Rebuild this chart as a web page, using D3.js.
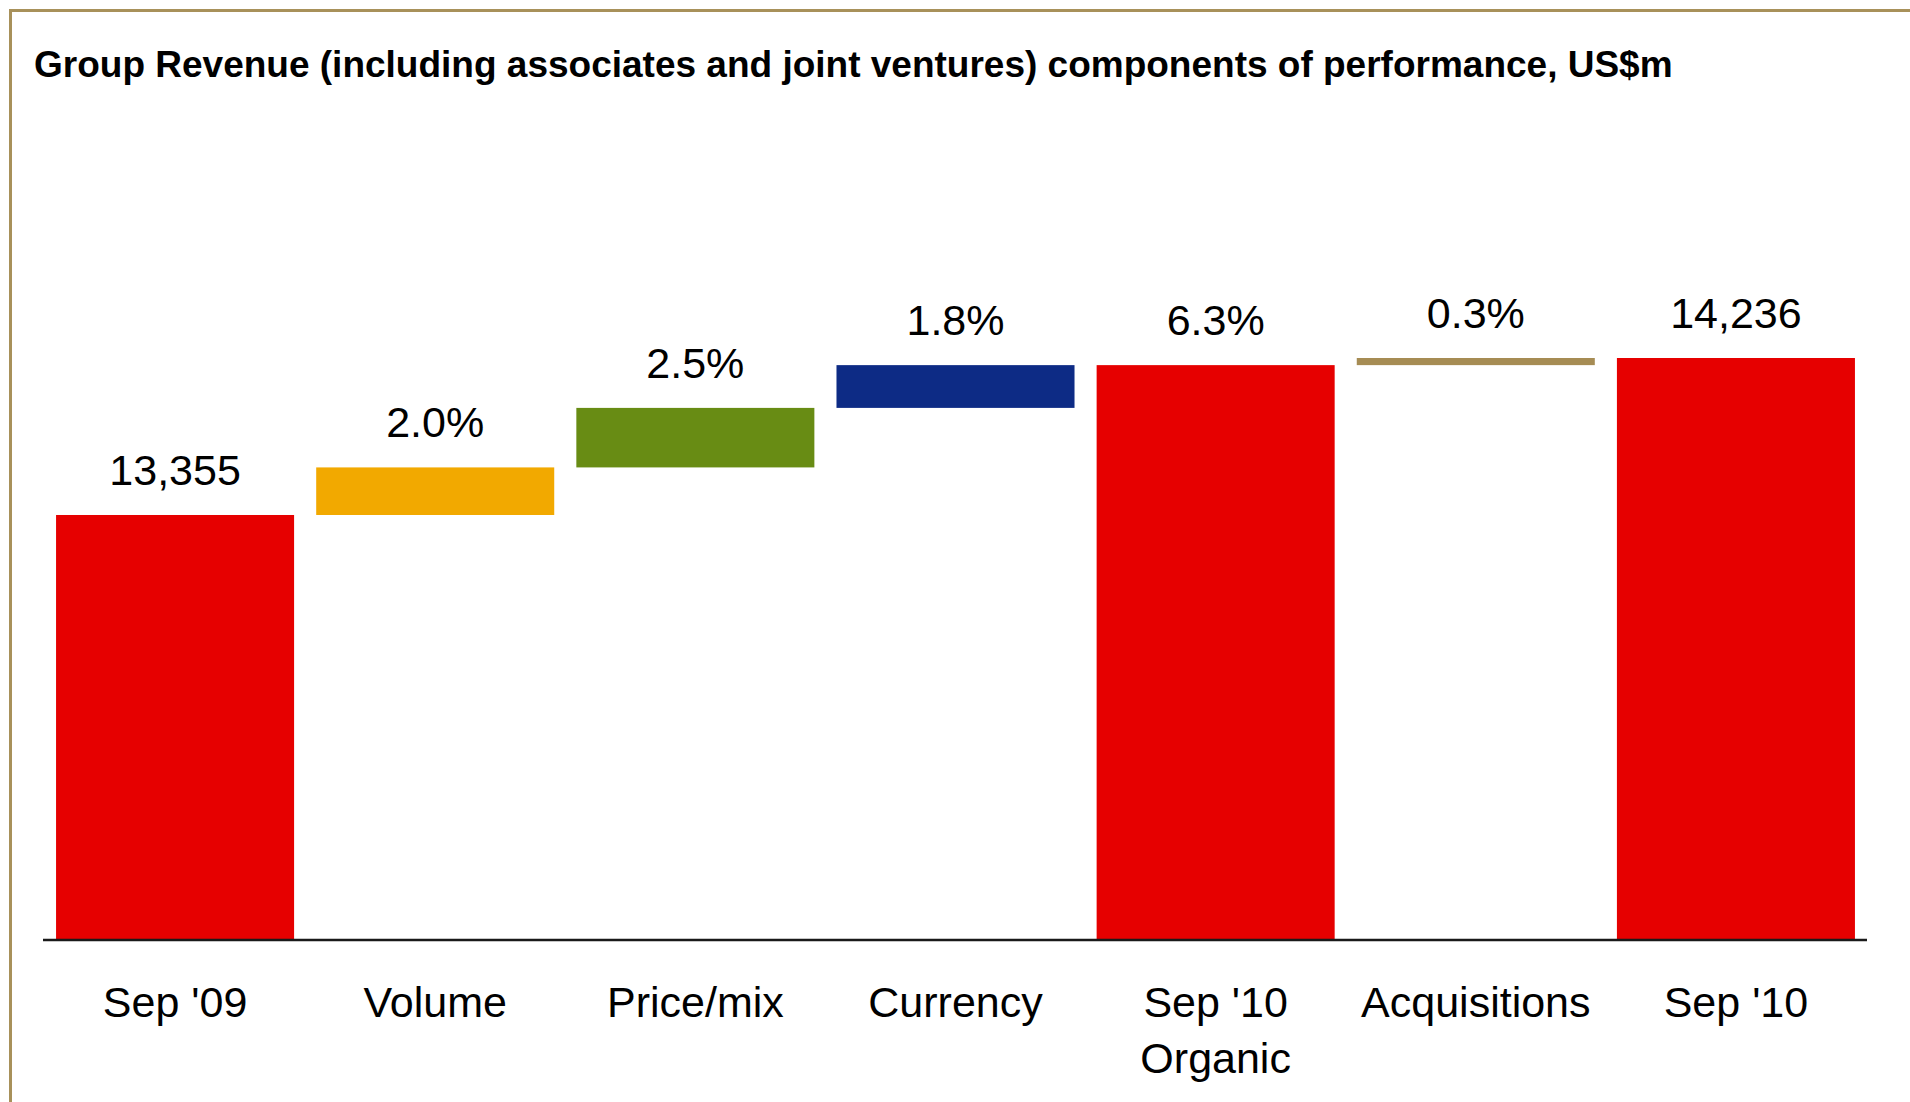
<meta charset="utf-8">
<html>

<head>
    <script src="https://d3js.org/d3.v7.min.js"></script>
    <style>
        body { margin: 0; background: #fff; }
        text { font-family: "Liberation Sans", Arial, sans-serif; fill: #000; }
    </style>
</head>

<body>
    <div id="chart"></div>

    <script>
        // categories along the bottom (| = line break)
        const categories = ["Sep '09", "Volume", "Price/mix", "Currency", "Sep '10|Organic", "Acquisitions", "Sep '10"];
        // US$m: totals are absolute, steps are increments on the running total
        const values = [13355, 267, 334, 240, 14196, 40, 14236];
        const kinds = ["total", "step", "step", "step", "total", "step", "total"];
        const valueLabels = ["13,355", "2.0%", "2.5%", "1.8%", "6.3%", "0.3%", "14,236"];
        const title = "Group Revenue (including associates and joint ventures) components of performance, US$m";

        const width = 1910, height = 1102;

        const svg = d3.select("#chart").append("svg")
            .attr("width", width)
            .attr("height", height);

        // frame (top and left rule)
        svg.append("line").attr("x1", 9).attr("x2", width).attr("y1", 10.5).attr("y2", 10.5)
            .attr("stroke", "#a8915a").attr("stroke-width", 3);
        svg.append("line").attr("x1", 10.5).attr("x2", 10.5).attr("y1", 9).attr("y2", height)
            .attr("stroke", "#a8915a").attr("stroke-width", 3);

        // title
        svg.append("text")
            .attr("x", 34)
            .attr("y", 77)
            .style("font-size", "37px")
            .style("font-weight", "bold")
            .text(title);

        // build waterfall rows
        let running = 0;
        const rows = categories.map(function (c, i) {
            let lo, hi;
            if (kinds[i] == "total") {
                lo = null; hi = values[i]; running = values[i];
            } else {
                lo = running; hi = running + values[i]; running = hi;
            }
            return { cat: c, lo: lo, hi: hi, label: valueLabels[i] };
        });

        const x = d3.scaleBand().domain(categories).range([45, 1866]).paddingInner(0.085).paddingOuter(0.0425);
        const y = d3.scaleLinear().domain([10970, 14236]).range([940, 358]);

        const color = d3.scaleOrdinal().domain(categories)
            .range(["#e60000", "#f2a900", "#688c14", "#0d2b85", "#e60000", "#a68c54", "#e60000"]);

        // bars
        svg.append("g").selectAll("rect").data(rows).enter().append("rect")
            .attr("x", d => x(d.cat))
            .attr("width", x.bandwidth())
            .attr("y", d => y(d.hi))
            .attr("height", d => (d.lo == null ? y.range()[0] : y(d.lo)) - y(d.hi))
            .attr("fill", d => color(d.cat));

        // value labels
        svg.append("g").selectAll("text").data(rows).enter().append("text")
            .attr("x", d => x(d.cat) + x.bandwidth() / 2)
            .attr("y", d => y(d.hi) - 30)
            .attr("text-anchor", "middle")
            .style("font-size", "43px")
            .text(d => d.label);

        // x axis
        const axis = svg.append("g")
            .attr("transform", "translate(0,940)")
            .call(d3.axisBottom(x).tickSize(0).tickSizeOuter(0));
        axis.select(".domain").attr("d", "M43,0H1867").attr("stroke", "#1a1a1a").attr("stroke-width", 2.5);
        axis.selectAll(".tick text").each(function (d) {
            const t = d3.select(this).text("").attr("y", 77).attr("dy", null)
                .style("font-size", "43px").attr("fill", "#000")
                .style("font-family", "'Liberation Sans', Arial, sans-serif");
            d.split("|").forEach(function (line, k) {
                t.append("tspan").attr("x", 0).attr("dy", k == 0 ? 0 : 56).text(line);
            });
        });
    </script>
</body>

</html>
